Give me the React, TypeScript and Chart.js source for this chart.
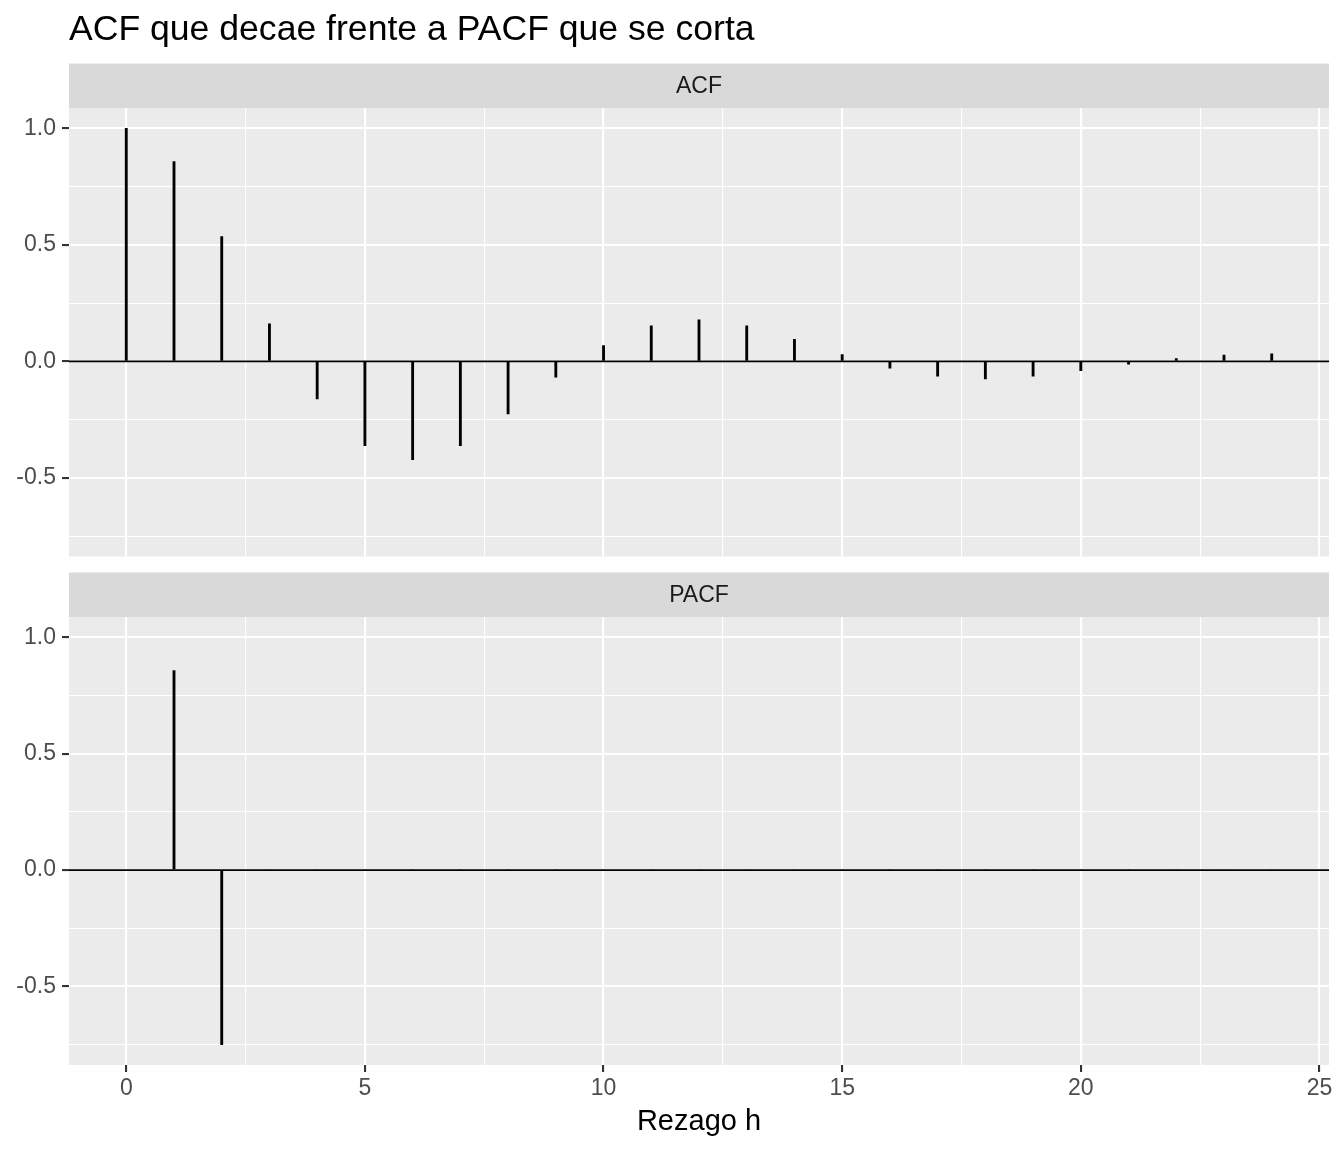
import { useEffect, useRef } from "react";
import { Chart, registerables } from "chart.js";

Chart.register(...registerables);

// ---------- data ----------
const TITLE = "ACF que decae frente a PACF que se corta";
const X_TITLE = "Rezago h";
const STRIP_TOP = "ACF";
const STRIP_BOTTOM = "PACF";

const ACF_LAGS = [0, 1, 2, 3, 4, 5, 6, 7, 8, 9, 10, 11, 12, 13, 14, 15, 16, 17, 18, 19, 20, 21, 22, 23, 24];
const ACF_VALUES = [
  1.0, 0.857, 0.536, 0.161, -0.161, -0.362, -0.422, -0.362, -0.226, -0.068, 0.068, 0.153, 0.178,
  0.153, 0.095, 0.029, -0.029, -0.064, -0.075, -0.064, -0.04, -0.012, 0.012, 0.027, 0.032,
];

const PACF_LAGS = [1, 2, 3, 4, 5, 6, 7, 8, 9, 10, 11, 12, 13, 14, 15, 16, 17, 18, 19, 20, 21, 22, 23, 24];
const PACF_VALUES = [0.857, -0.75, 0, 0, 0, 0, 0, 0, 0, 0, 0, 0, 0, 0, 0, 0, 0, 0, 0, 0, 0, 0, 0, 0];

const X_MAJOR = [0, 5, 10, 15, 20, 25];
const X_LABELS = ["0", "5", "10", "15", "20", "25"];
const X_MINOR = [2.5, 7.5, 12.5, 17.5, 22.5];
const Y_MAJOR = [-0.5, 0, 0.5, 1.0];
const Y_LABELS = ["-0.5", "0.0", "0.5", "1.0"];
const Y_MINOR = [-0.75, -0.25, 0.25, 0.75];
const X_MIN = -1.2;
const X_MAX = 25.2;
const Y_MIN = -0.8375;
const Y_MAX = 1.0875;

// ---------- style ----------
const FONT = "'Liberation Sans', Arial, Helvetica, sans-serif";
const W = 1344;
const H_TOP = 564;
const H_BOT = 588;
const STRIP_H = 44.5;
const MAJOR_W = 2.1;
const MINOR_W = 1.1;

function panelPlugin(strip: string, title?: string) {
  return {
    id: "panelDeco",
    beforeDraw(chart: any) {
      const { ctx, chartArea: a } = chart;
      ctx.save();
      ctx.fillStyle = "#EBEBEB";
      ctx.fillRect(a.left, a.top, a.right - a.left, a.bottom - a.top);
      ctx.fillStyle = "#D9D9D9";
      ctx.fillRect(a.left, a.top - STRIP_H, a.right - a.left, STRIP_H);
      ctx.fillStyle = "#1A1A1A";
      ctx.font = `23px ${FONT}`;
      ctx.textAlign = "center";
      ctx.textBaseline = "middle";
      ctx.fillText(strip, (a.left + a.right) / 2, a.top - STRIP_H / 2 + 1);
      if (title) {
        ctx.fillStyle = "#000000";
        ctx.font = `35.6px ${FONT}`;
        ctx.textAlign = "left";
        ctx.textBaseline = "alphabetic";
        ctx.fillText(title, a.left, 40);
      }
      ctx.restore();
    },
  };
}

function makeConfig(lags: number[], values: number[], strip: string, isBottom: boolean, title?: string): any {
  const xTicks = [...X_MAJOR, ...X_MINOR].sort((p, q) => p - q);
  const yTicks = [...Y_MAJOR, ...Y_MINOR].sort((p, q) => p - q);
  return {
    type: "bar",
    data: {
      datasets: [
        {
          type: "bar",
          data: lags.map((x, i) => ({ x, y: values[i] })),
          backgroundColor: "#000000",
          borderWidth: 0,
          barThickness: 2.2,
          order: 1,
        },
        {
          type: "line",
          data: [
            { x: X_MIN, y: 0 },
            { x: X_MAX, y: 0 },
          ],
          borderColor: "#000000",
          borderWidth: 1.6,
          pointRadius: 0,
          fill: false,
          order: 0,
        },
      ],
    },
    options: {
      responsive: false,
      animation: false,
      events: [],
      layout: { padding: { top: isBottom ? 53 : 108, right: 15, left: 0, bottom: 0 } },
      plugins: { legend: { display: false }, tooltip: { enabled: false }, title: { display: false } },
      scales: {
        x: {
          type: "linear",
          min: X_MIN,
          max: X_MAX,
          offset: false,
          afterBuildTicks: (s: any) => {
            s.ticks = xTicks.map((v) => ({ value: v }));
          },
          afterFit: (s: any) => {
            s.height = isBottom ? 87 : 7.5;
            s.paddingLeft = 0;
            s.paddingRight = 0;
            s.paddingTop = 0;
            s.paddingBottom = 0;
          },
          grid: {
            offset: false,
            color: "#FFFFFF",
            lineWidth: (c: any) => (c.tick && X_MAJOR.includes(c.tick.value) ? MAJOR_W : MINOR_W),
            drawTicks: isBottom,
            tickLength: 7,
            tickWidth: MAJOR_W,
            tickColor: (c: any) => (c.tick && X_MAJOR.includes(c.tick.value) ? "#333333" : "rgba(0,0,0,0)"),
          },
          border: { display: false },
          ticks: {
            display: isBottom,
            autoSkip: false,
            maxRotation: 0,
            minRotation: 0,
            padding: 3,
            color: "#4D4D4D",
            font: { family: FONT, size: 23 },
            callback: (v: any) => {
              const i = X_MAJOR.indexOf(Number(v));
              return i >= 0 ? X_LABELS[i] : "";
            },
          },
          title: {
            display: isBottom,
            text: X_TITLE,
            color: "#000000",
            font: { family: FONT, size: 29 },
            padding: { top: 0, bottom: 13 },
          },
        },
        y: {
          type: "linear",
          min: Y_MIN,
          max: Y_MAX,
          afterBuildTicks: (s: any) => {
            s.ticks = yTicks.map((v) => ({ value: v }));
          },
          afterFit: (s: any) => {
            s.width = 69;
            s.paddingTop = 0;
            s.paddingBottom = 0;
            s.paddingLeft = 0;
            s.paddingRight = 0;
          },
          grid: {
            color: "#FFFFFF",
            lineWidth: (c: any) => (c.tick && Y_MAJOR.includes(c.tick.value) ? MAJOR_W : MINOR_W),
            drawTicks: true,
            tickLength: 7,
            tickWidth: MAJOR_W,
            tickColor: (c: any) => (c.tick && Y_MAJOR.includes(c.tick.value) ? "#333333" : "rgba(0,0,0,0)"),
          },
          border: { display: false },
          ticks: {
            autoSkip: false,
            padding: 6,
            color: "#4D4D4D",
            font: { family: FONT, size: 23 },
            callback: (v: any) => {
              const i = Y_MAJOR.indexOf(Number(v));
              return i >= 0 ? Y_LABELS[i] : "";
            },
          },
        },
      },
    },
    plugins: [panelPlugin(strip, title)],
  };
}

export default function App() {
  const topRef = useRef<HTMLCanvasElement>(null);
  const botRef = useRef<HTMLCanvasElement>(null);

  useEffect(() => {
    const c1 = new Chart(topRef.current as HTMLCanvasElement, makeConfig(ACF_LAGS, ACF_VALUES, STRIP_TOP, false, TITLE));
    const c2 = new Chart(botRef.current as HTMLCanvasElement, makeConfig(PACF_LAGS, PACF_VALUES, STRIP_BOTTOM, true));
    return () => {
      c1.destroy();
      c2.destroy();
    };
  }, []);

  return (
    <div style={{ position: "absolute", left: 0, top: 0, width: W, height: H_TOP + H_BOT, background: "#FFFFFF" }}>
      <canvas
        ref={topRef}
        width={W}
        height={H_TOP}
        style={{ position: "absolute", left: 0, top: 0, width: W, height: H_TOP, display: "block" }}
      />
      <canvas
        ref={botRef}
        width={W}
        height={H_BOT}
        style={{ position: "absolute", left: 0, top: H_TOP, width: W, height: H_BOT, display: "block" }}
      />
    </div>
  );
}
